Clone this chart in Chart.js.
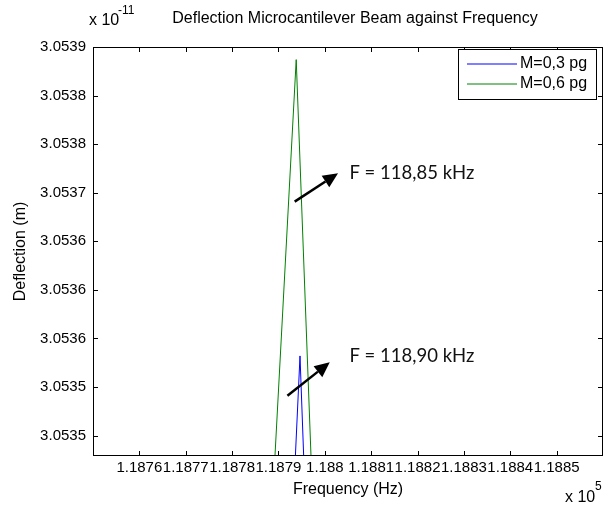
<!DOCTYPE html>
<html><head><meta charset="utf-8">
<script src="https://cdn.jsdelivr.net/npm/chart.js@4/dist/chart.umd.min.js"></script>
<style>html,body{margin:0;padding:0;background:#fff}#wrap{width:614px;height:508px;position:relative}</style>
</head><body><div id="wrap"><canvas id="c" width="614" height="508"></canvas></div>
<script>
// ---- data (deflection in units of 1e-11 m, frequency in Hz) ----
const seriesLabels = ["M=0,3 pg", "M=0,6 pg"];
const seriesColors = ["#0000ff", "#008000"];
const freqBlue  = [118750, 118790, 118794.65, 118800, 118860];
const deflBlue  = [3.05244, 3.053103, 3.053582, 3.052885, 3.05238];
const freqGreen = [118750, 118785, 118793.83, 118800, 118860];
const deflGreen = [3.05245, 3.053101, 3.053887, 3.053098, 3.05240];
const xTickValues = [118760, 118770, 118780, 118790, 118800, 118810, 118820, 118830, 118840, 118850];
const xTickLabels = ["1.1876", "1.1877", "1.1878", "1.1879", "1.188", "1.1881", "1.1882", "1.1883", "1.1884", "1.1885"];
const yTickValues = [3.0539, 3.05385, 3.0538, 3.05375, 3.0537, 3.05365, 3.0536, 3.05355, 3.0535];
const yTickLabels = ["3.0539", "3.0538", "3.0538", "3.0537", "3.0536", "3.0536", "3.0536", "3.0535", "3.0535"];
const annoLabels = ["F = 118,85 kHz", "F = 118,90 kHz"];
const annoTail = [[118793.50, 3.0537408], [118791.93, 3.0535411]];
const annoTip  = [[118802.85, 3.053770], [118801.06, 3.0535754]];
const annoText = [[118805.3, 3.053770], [118805.3, 3.0535819]];

const FONT = "'Liberation Sans', Arial, sans-serif";

const decor = {
  id: 'decor',
  afterDraw(chart) {
    const {ctx, chartArea: a, scales: {x, y}} = chart;
    ctx.save();
    // axes box
    ctx.strokeStyle = '#000'; ctx.lineWidth = 1;
    ctx.strokeRect(a.left + 0.5, a.top + 0.5, a.right - a.left - 1, a.bottom - a.top - 1);
    // inward ticks on all sides
    ctx.beginPath();
    x.ticks.forEach(t => {
      const px = Math.round(x.getPixelForValue(t.value)) + 0.5;
      ctx.moveTo(px, a.bottom); ctx.lineTo(px, a.bottom - 5);
      ctx.moveTo(px, a.top); ctx.lineTo(px, a.top + 5);
    });
    y.ticks.forEach(t => {
      const py = Math.round(y.getPixelForValue(t.value)) + 0.5;
      ctx.moveTo(a.left, py); ctx.lineTo(a.left + 5, py);
      ctx.moveTo(a.right, py); ctx.lineTo(a.right - 5, py);
    });
    ctx.stroke();

    // texts
    ctx.fillStyle = '#000';
    ctx.textBaseline = 'middle';
    ctx.textAlign = 'center';
    ctx.font = '16px ' + FONT;
    ctx.fillText('Deflection Microcantilever Beam against Frequency', 355, 19);
    ctx.fillText('Frequency (Hz)', (a.left + a.right) / 2, 490);
    ctx.save();
    ctx.translate(21, (a.top + a.bottom) / 2);
    ctx.rotate(-Math.PI / 2);
    ctx.fillText('Deflection (m)', 0, 0);
    ctx.restore();
    // exponents
    ctx.textAlign = 'left';
    ctx.font = '16px ' + FONT;
    ctx.fillText('x 10', 89, 21);
    ctx.font = '12px ' + FONT;
    ctx.fillText('-11', 118, 11);
    ctx.font = '16px ' + FONT;
    ctx.fillText('x 10', 565, 498);
    ctx.font = '12px ' + FONT;
    ctx.fillText('5', 595, 487);

    // legend
    ctx.fillStyle = '#fff';
    ctx.fillRect(458.5, 49.5, 138, 50);
    ctx.strokeStyle = '#000'; ctx.lineWidth = 1;
    ctx.strokeRect(458.5, 49.5, 138, 50);
    seriesLabels.forEach((lab, i) => {
      const ly = 64 + i * 20;
      ctx.strokeStyle = seriesColors[i]; ctx.lineWidth = 1;
      ctx.beginPath(); ctx.moveTo(467, ly); ctx.lineTo(517, ly); ctx.stroke();
      ctx.fillStyle = '#000';
      ctx.font = '16px ' + FONT;
      ctx.textAlign = 'left';
      ctx.fillText(lab, 520, ly);
    });

    // annotations (arrows + text), positioned in data coordinates
    annoLabels.forEach((lab, i) => {
      const tx = x.getPixelForValue(annoTail[i][0]), ty = y.getPixelForValue(annoTail[i][1]);
      const hx = x.getPixelForValue(annoTip[i][0]), hy = y.getPixelForValue(annoTip[i][1]);
      const ang = Math.atan2(hy - ty, hx - tx);
      const L = 15, W = 7;
      const bx = hx - L * Math.cos(ang), by = hy - L * Math.sin(ang);
      ctx.strokeStyle = '#000'; ctx.lineWidth = 2.5;
      ctx.beginPath(); ctx.moveTo(tx, ty); ctx.lineTo(bx, by); ctx.stroke();
      ctx.fillStyle = '#000';
      ctx.beginPath();
      ctx.moveTo(hx, hy);
      ctx.lineTo(bx + W * Math.sin(ang), by - W * Math.cos(ang));
      ctx.lineTo(bx - W * Math.sin(ang), by + W * Math.cos(ang));
      ctx.closePath(); ctx.fill();
      ctx.font = "18.5px Lato, 'Open Sans', sans-serif";
      ctx.textAlign = 'left'; ctx.textBaseline = 'middle';
      ctx.fillStyle = '#111';
      ctx.fillText(lab, x.getPixelForValue(annoText[i][0]), y.getPixelForValue(annoText[i][1]));
    });
    ctx.restore();
  }
};

new Chart(document.getElementById('c'), {
  type: 'line',
  data: {
    datasets: [
      { label: seriesLabels[0], data: freqBlue.map((f, i) => ({x: f, y: deflBlue[i]})),
        borderColor: seriesColors[0], borderWidth: 1, pointRadius: 0, tension: 0, fill: false },
      { label: seriesLabels[1], data: freqGreen.map((f, i) => ({x: f, y: deflGreen[i]})),
        borderColor: seriesColors[1], borderWidth: 1, pointRadius: 0, tension: 0, fill: false }
    ]
  },
  options: {
    responsive: false, animation: false, devicePixelRatio: 1,
    layout: { padding: { top: 47, right: 11, left: 0, bottom: 0 } },
    plugins: { legend: { display: false }, tooltip: { enabled: false }, title: { display: false } },
    scales: {
      x: {
        type: 'linear', min: 118750, max: 118860,
        afterBuildTicks: s => { s.ticks = xTickValues.map(v => ({value: v})); },
        afterFit: s => { s.height = 52; },
        grid: { display: false, drawTicks: false },
        border: { display: false },
        ticks: { autoSkip: false, maxRotation: 0, minRotation: 0, padding: 3, color: '#000',
                 font: { family: FONT, size: 15 },
                 callback: (v, i) => xTickLabels[i] }
      },
      y: {
        type: 'linear', min: 3.053479, max: 3.0539,
        afterBuildTicks: s => { s.ticks = yTickValues.map(v => ({value: v})); },
        afterFit: s => { s.width = 93; },
        grid: { display: false, drawTicks: false },
        border: { display: false },
        ticks: { autoSkip: false, padding: 7, color: '#000',
                 font: { family: FONT, size: 15 },
                 callback: (v, i) => yTickLabels[i] }
      }
    }
  },
  plugins: [decor]
});
</script>
</body></html>
